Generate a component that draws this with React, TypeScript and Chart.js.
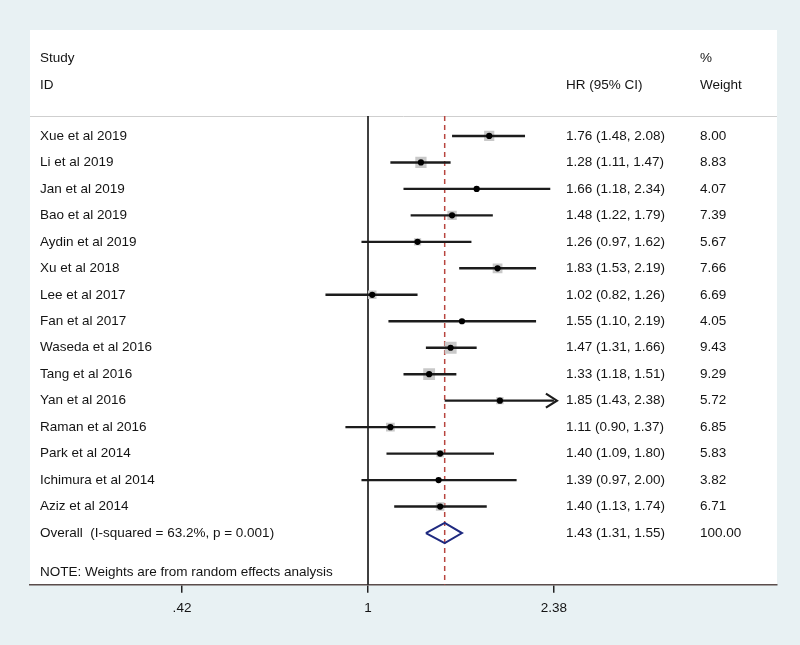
import React, { useEffect, useRef } from 'react';
import { Chart, registerables } from 'chart.js';

Chart.register(...registerables);

// ---- Data ----
const studies = [
  'Xue et al 2019', 'Li et al 2019', 'Jan et al 2019', 'Bao et al 2019', 'Aydin et al 2019',
  'Xu et al 2018', 'Lee et al 2017', 'Fan et al 2017', 'Waseda et al 2016', 'Tang et al 2016',
  'Yan et al 2016', 'Raman et al 2016', 'Park et al 2014', 'Ichimura et al 2014', 'Aziz et al 2014',
];
const hr = [1.76, 1.28, 1.66, 1.48, 1.26, 1.83, 1.02, 1.55, 1.47, 1.33, 1.85, 1.11, 1.40, 1.39, 1.40];
const lower = [1.48, 1.11, 1.18, 1.22, 0.97, 1.53, 0.82, 1.10, 1.31, 1.18, 1.43, 0.90, 1.09, 0.97, 1.13];
const upper = [2.08, 1.47, 2.34, 1.79, 1.62, 2.19, 1.26, 2.19, 1.66, 1.51, 2.38, 1.37, 1.80, 2.00, 1.74];
const weights = [8.00, 8.83, 4.07, 7.39, 5.67, 7.66, 6.69, 4.05, 9.43, 9.29, 5.72, 6.85, 5.83, 3.82, 6.71];

const overallLabel = 'Overall  (I-squared = 63.2%, p = 0.001)';
const overallHr = 1.43;
const overallLower = 1.31;
const overallUpper = 1.55;
const overallWeight = 100.0;

const xTicks = [0.42, 1, 2.38];
const xTickLabels = ['.42', '1', '2.38'];
const noteText = 'NOTE: Weights are from random effects analysis';

// ---- Layout constants (rows in y-scale units) ----
const OVERALL_ROW = studies.length + 1;
const NOTE_ROW = 17.5;
const HEAD1_ROW = -1.946;
const HEAD2_ROW = -0.926;
const SEP_ROW = 0.245;
const Y_MIN = -3.003;
const Y_MAX = 17.956;
const X_MIN = 0.2067;
const X_MAX = 6.737;
const LABEL_X = 40;
const HR_X = 566;
const WEIGHT_X = 700;
const FONT_FAMILY = '"Liberation Sans", Arial, Helvetica, sans-serif';
const FONT = `13.5px ${FONT_FAMILY}`;
const TEXT_COLOR = '#141414';

const fmtCI = (h: number, l: number, u: number) => `${h.toFixed(2)} (${l.toFixed(2)}, ${u.toFixed(2)})`;

const forestPlugin = {
  id: 'forestDecor',
  beforeDraw(chart: any) {
    const { ctx, chartArea: a, width, height } = chart;
    ctx.save();
    ctx.fillStyle = '#e8f1f3';
    ctx.fillRect(0, 0, width, height);
    ctx.fillStyle = '#ffffff';
    ctx.fillRect(a.left, a.top, a.right - a.left, a.bottom - a.top);
    const ys = chart.scales.y;
    const sy = Math.round(ys.getPixelForValue(SEP_ROW)) + 0.5;
    ctx.strokeStyle = '#cfcfcf';
    ctx.lineWidth = 1;
    ctx.beginPath();
    ctx.moveTo(a.left, sy);
    ctx.lineTo(a.right, sy);
    ctx.stroke();
    ctx.restore();
  },
  afterDatasetsDraw(chart: any) {
    const { ctx } = chart;
    const ys = chart.scales.y;
    const xs = chart.scales.x;
    ctx.save();
    ctx.font = FONT;
    ctx.fillStyle = TEXT_COLOR;
    ctx.textBaseline = 'middle';
    ctx.textAlign = 'left';
    const py = (r: number) => ys.getPixelForValue(r);
    ctx.fillText('Study', LABEL_X, py(HEAD1_ROW));
    ctx.fillText('ID', LABEL_X, py(HEAD2_ROW));
    ctx.fillText('%', WEIGHT_X, py(HEAD1_ROW));
    ctx.fillText('HR (95% CI)', HR_X, py(HEAD2_ROW));
    ctx.fillText('Weight', WEIGHT_X, py(HEAD2_ROW));
    studies.forEach((s, i) => {
      const y = py(i + 1);
      ctx.fillText(s, LABEL_X, y);
      ctx.fillText(fmtCI(hr[i], lower[i], upper[i]), HR_X, y);
      ctx.fillText(weights[i].toFixed(2), WEIGHT_X, y);
    });
    ctx.fillText(overallLabel, LABEL_X, py(OVERALL_ROW));
    ctx.fillText(fmtCI(overallHr, overallLower, overallUpper), HR_X, py(OVERALL_ROW));
    ctx.fillText(overallWeight.toFixed(2), WEIGHT_X, py(OVERALL_ROW));
    ctx.fillText(noteText, LABEL_X, py(NOTE_ROW));

    // arrowheads for CIs clipped at the axis limit
    const lim = xTicks[xTicks.length - 1];
    ctx.strokeStyle = '#1c1c1c';
    ctx.lineWidth = 2.2;
    studies.forEach((_, i) => {
      if (upper[i] >= lim) {
        const tx = xs.getPixelForValue(lim) + 3;
        const ty = py(i + 1);
        ctx.beginPath();
        ctx.moveTo(tx - 11, ty - 7);
        ctx.lineTo(tx, ty);
        ctx.lineTo(tx - 11, ty + 7);
        ctx.stroke();
      }
    });
    ctx.restore();
  },
};

export default function App() {
  const canvasRef = useRef<HTMLCanvasElement | null>(null);

  useEffect(() => {
    if (!canvasRef.current) return;
    const lim = xTicks[xTicks.length - 1];
    const ciDatasets = studies.map((s, i) => ({
      label: s,
      data: [
        { x: lower[i], y: i + 1 },
        { x: Math.min(upper[i], lim), y: i + 1 },
      ],
      showLine: true,
      borderColor: '#1c1c1c',
      borderWidth: 2.4,
      pointRadius: 0,
      fill: false,
      order: 3,
    }));

    const chart = new Chart(canvasRef.current, {
      type: 'scatter',
      data: {
        datasets: [
          {
            label: 'points',
            data: hr.map((v, i) => ({ x: v, y: i + 1 })),
            pointRadius: 3.1,
            pointStyle: 'circle',
            backgroundColor: '#000000',
            borderWidth: 0,
            order: 0,
          },
          {
            label: 'overall',
            data: [
              { x: overallLower, y: OVERALL_ROW },
              { x: overallHr, y: OVERALL_ROW - 0.38 },
              { x: overallUpper, y: OVERALL_ROW },
              { x: overallHr, y: OVERALL_ROW + 0.38 },
              { x: overallLower, y: OVERALL_ROW },
            ],
            showLine: true,
            borderColor: '#1f2a80',
            borderWidth: 2,
            pointRadius: 0,
            fill: false,
            order: 1,
          },
          ...ciDatasets,
          {
            label: 'boxes',
            data: hr.map((v, i) => ({ x: v, y: i + 1 })),
            pointStyle: 'rect',
            pointRadius: weights.map((w) => w * 0.9),
            backgroundColor: '#c9c9c9',
            borderWidth: 0,
            order: 4,
          },
          {
            label: 'overall line',
            data: [
              { x: overallHr, y: SEP_ROW },
              { x: overallHr, y: Y_MAX },
            ],
            showLine: true,
            borderColor: '#b8453f',
            borderWidth: 1.5,
            borderDash: [5, 4],
            pointRadius: 0,
            order: 5,
          },
          {
            label: 'null line',
            data: [
              { x: 1, y: SEP_ROW },
              { x: 1, y: Y_MAX },
            ],
            showLine: true,
            borderColor: '#111111',
            borderWidth: 1.6,
            pointRadius: 0,
            order: 6,
          },
        ],
      } as any,
      options: {
        animation: false,
        responsive: true,
        maintainAspectRatio: false,
        events: [],
        layout: { padding: { left: 30, right: 23, top: 30, bottom: 22 } },
        plugins: {
          legend: { display: false },
          tooltip: { enabled: false },
          title: { display: false },
        },
        scales: {
          x: {
            type: 'logarithmic',
            min: X_MIN,
            max: X_MAX,
            afterBuildTicks: (s: any) => {
              s.ticks = xTicks.map((v) => ({ value: v }));
            },
            ticks: {
              autoSkip: false,
              maxRotation: 0,
              padding: 7,
              color: TEXT_COLOR,
              font: { family: FONT_FAMILY, size: 13.5 },
              callback: (_v: any, i: number) => xTickLabels[i],
            },
            grid: {
              drawOnChartArea: false,
              drawTicks: true,
              tickLength: 8,
              color: '#222222',
              lineWidth: 1.5,
            },
            border: { display: true, color: '#5a4d4b', width: 1.5 },
          },
          y: {
            type: 'linear',
            min: Y_MIN,
            max: Y_MAX,
            reverse: true,
            display: false,
          },
        },
      } as any,
      plugins: [forestPlugin],
    });
    return () => chart.destroy();
  }, []);

  return (
    <div style={{ position: 'fixed', left: 0, top: 0, width: 800, height: 645 }}>
      <canvas ref={canvasRef} />
    </div>
  );
}
